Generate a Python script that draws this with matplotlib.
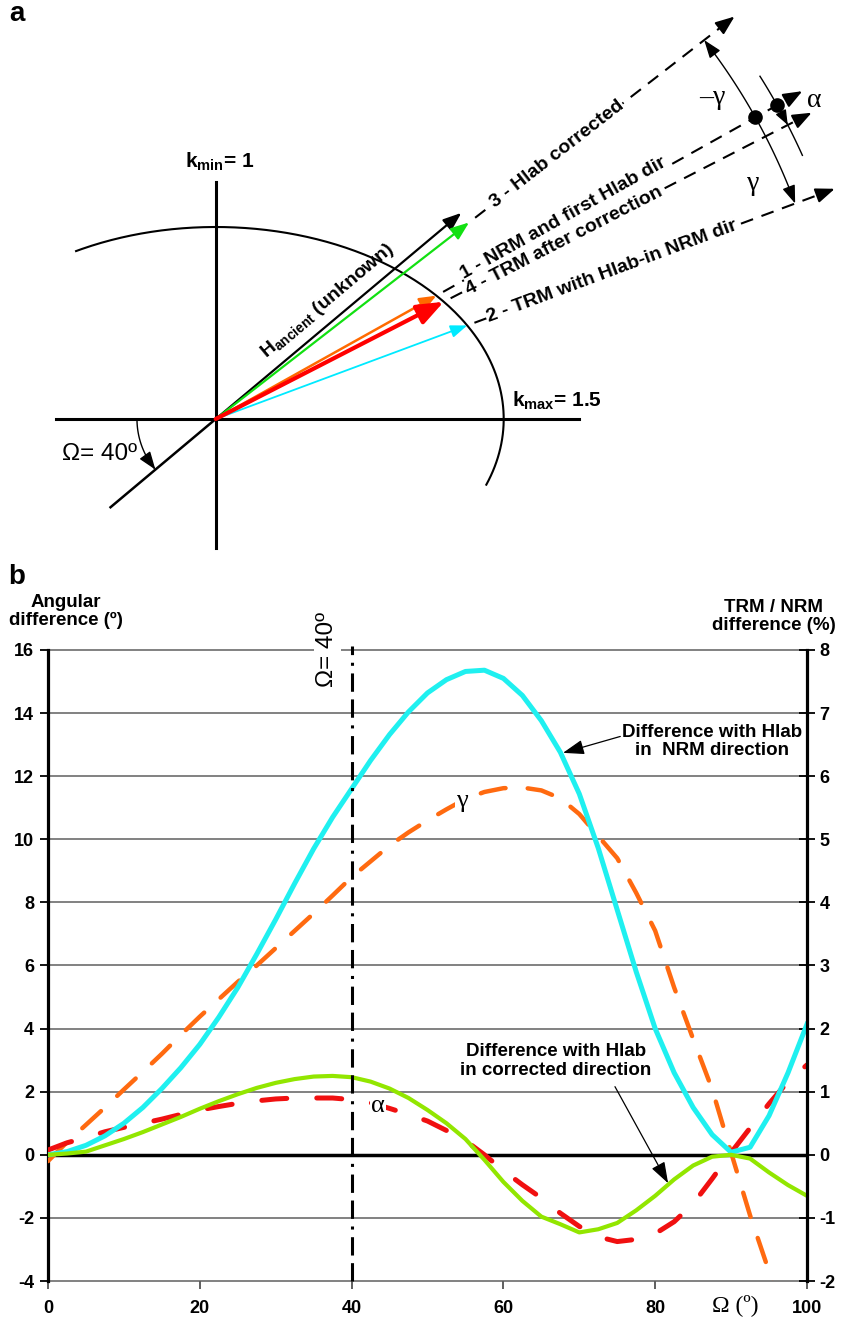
"""Anisotropy sketch (a) and angular / TRM-NRM differences against Omega (b)."""

import matplotlib

matplotlib.use("Agg")
import matplotlib.pyplot as plt
import numpy as np

plt.rcParams["font.family"] = ["Liberation Sans", "DejaVu Sans"]
plt.rcParams["mathtext.fontset"] = "custom"
plt.rcParams["mathtext.rm"] = "Liberation Sans"
plt.rcParams["mathtext.bf"] = "Liberation Sans:bold"
plt.rcParams["mathtext.it"] = "Liberation Sans:italic"
plt.rcParams["axes.unicode_minus"] = False

SERIF = ["Liberation Serif", "DejaVu Serif"]

# ---------------- panel b: curves vs Omega ----------------
OMEGA_DEG = [0, 2.5, 5, 7.5, 10, 12.5, 15, 17.5, 20, 22.5, 25, 27.5, 30, 32.5,
             35, 37.5, 40, 42.5, 45, 47.5, 50, 52.5, 55, 57.5, 60, 62.5, 65,
             67.5, 70, 72.5, 75, 77.5, 80, 82.5, 85, 87.5, 90, 92.5, 95, 97.5,
             100]

# angular differences (deg, left axis)
GAMMA_DEG = [-0.2, 0.4, 0.95, 1.5, 2.07, 2.63, 3.2, 3.8, 4.38, 4.93, 5.48, 6.0,
             6.55, 7.1, 7.65, 8.22, 8.8, 9.3, 9.8, 10.22, 10.6, 10.95, 11.28,
             11.5, 11.62, 11.64, 11.55, 11.3, 10.8, 10.1, 9.4, 8.3, 7.1, 5.3,
             3.67, 2.08, 0.07, -1.92, -3.7, -5.5]
OMEGA_GAMMA = OMEGA_DEG[:len(GAMMA_DEG)]
ALPHA_DEG = [0.15, 0.38, 0.55, 0.73, 0.87, 1.0, 1.13, 1.28, 1.42, 1.53, 1.63,
             1.71, 1.77, 1.8, 1.8, 1.8, 1.75, 1.65, 1.47, 1.28, 1.07, 0.77,
             0.45, 0.0, -0.5, -0.95, -1.37, -1.85, -2.27, -2.6, -2.75, -2.68,
             -2.5, -2.12, -1.55, -0.76, 0.07, 0.85, 1.62, 2.32, 2.85]

# TRM / NRM differences (%, right axis)
NRM_DIR_PCT = [0, 0.05, 0.15, 0.3, 0.5, 0.75, 1.05, 1.38, 1.75, 2.18, 2.65,
               3.18, 3.73, 4.3, 4.85, 5.35, 5.8, 6.25, 6.66, 7.02, 7.32, 7.53,
               7.66, 7.68, 7.55, 7.28, 6.88, 6.38, 5.72, 4.86, 3.88, 2.9, 2.0,
               1.3, 0.75, 0.32, 0.04, 0.12, 0.62, 1.3, 2.07]
CORR_DIR_PCT = [0, 0.02, 0.05, 0.15, 0.25, 0.36, 0.48, 0.6, 0.73, 0.85, 0.96,
                1.06, 1.14, 1.2, 1.24, 1.25, 1.23, 1.16, 1.05, 0.9, 0.71, 0.5,
                0.25, -0.08, -0.43, -0.73, -0.98, -1.1, -1.23, -1.18, -1.08,
                -0.88, -0.65, -0.39, -0.17, -0.03, 0.0, -0.06, -0.28, -0.48,
                -0.65]

LEFT_TICKS = list(range(-4, 17, 2))
RIGHT_TICKS = list(range(-2, 9))
X_TICKS = list(range(0, 101, 20))
OMEGA_MARK = 40

# ---------------- panel a: sketch geometry ----------------
K_MIN = 1.0
K_MAX = 1.5
ANG_ANCIENT = 40.0      # also Omega
ANG_HLAB_CORR = 37.8
ANG_NRM = 29.2
ANG_TRM_CORR = 27.2
ANG_TRM_NRMDIR = 20.4

W, H = 842, 1319
fig = plt.figure(figsize=(W / 100, H / 100), dpi=100)

# ======================= panel a =======================
U = 192.0                 # pixels per unit of susceptibility
OX, OY = 215.7, 419.0     # origin of the sketch in figure pixels
TOP_H = 560
ax_a = fig.add_axes([0, 1 - TOP_H / H, 1, TOP_H / H])
ax_a.set_xlim(-OX / U, (W - OX) / U)
ax_a.set_ylim(-(TOP_H - OY) / U, OY / U)
ax_a.axis("off")


def polar(r, deg):
    t = np.radians(deg)
    return np.array([r * np.cos(t), r * np.sin(t)])


def along(r, deg, off=0.0):
    return polar(r, deg) + polar(off, deg + 90)


def on_ellipse(deg):
    t = np.radians(deg)
    return 1.0 / np.hypot(np.cos(t) / K_MAX, np.sin(t) / K_MIN)


def head(ax, start, end, color="black", lw=1.5, hl=1.0, hw=0.4, z=4):
    ax.annotate("", xy=tuple(end), xytext=tuple(start),
                arrowprops=dict(arrowstyle=f"-|>,head_length={hl},head_width={hw}",
                                color=color, lw=lw, shrinkA=0, shrinkB=0,
                                mutation_scale=10),
                zorder=z)


def dashed_ray(ax, deg, r0, r1):
    p0, pm, p1 = polar(r0, deg), polar(r1 - 0.07, deg), polar(r1, deg)
    ax.plot([p0[0], pm[0]], [p0[1], pm[1]], color="black", lw=1.5,
            dashes=(6.2, 4.3), zorder=2)
    head(ax, pm, p1, lw=1.5, hl=1.15, hw=0.45)


def arc(ax, r, a0, a1, lw=1.0):
    t = np.radians(np.linspace(a0, a1, 80))
    ax.plot(r * np.cos(t), r * np.sin(t), color="black", lw=lw, zorder=3)


# coordinate axes and the Omega direction
ax_a.plot([-0.83, 1.89], [0, 0], color="black", lw=2.2, zorder=2)
ax_a.plot([0, 0], [-0.67, 1.234], color="black", lw=2.2, zorder=2)
low = polar(0.715, 180 + ANG_ANCIENT)
ax_a.plot([low[0], 0], [low[1], 0], color="black", lw=1.8, zorder=2)

# susceptibility ellipse
t = np.radians(np.linspace(-20, 119, 200))
ax_a.plot(K_MAX * np.cos(t), K_MIN * np.sin(t), color="black", lw=1.5, zorder=2)

# Omega angle
arc(ax_a, 0.41, 180, 180 + ANG_ANCIENT - 1.5)
head(ax_a, polar(0.41, 180 + ANG_ANCIENT - 8), polar(0.41, 180 + ANG_ANCIENT),
     lw=1.0, hl=1.1, hw=0.4)

# vectors from the origin
head(ax_a, (0, 0), polar(1.67, ANG_ANCIENT), "black", 1.6, 1.1, 0.42)
head(ax_a, (0, 0), polar(1.67, ANG_HLAB_CORR), "#12e012", 1.6, 1.1, 0.42)
head(ax_a, (0, 0), polar(on_ellipse(ANG_NRM), ANG_NRM), "#ff6a00", 1.8, 1.0, 0.4)
head(ax_a, (0, 0), polar(on_ellipse(ANG_TRM_CORR), ANG_TRM_CORR), "#ff0000",
     3.0, 1.6, 0.62, z=5)
head(ax_a, (0, 0), polar(on_ellipse(ANG_TRM_NRMDIR), ANG_TRM_NRMDIR), "#00eaff",
     1.3, 1.0, 0.38)

# dashed continuations
dashed_ray(ax_a, ANG_HLAB_CORR, 1.71, 3.42)
dashed_ray(ax_a, ANG_NRM, on_ellipse(ANG_NRM) + 0.04, 3.5)
dashed_ray(ax_a, ANG_TRM_CORR, on_ellipse(ANG_TRM_CORR) + 0.04, 3.49)
dashed_ray(ax_a, ANG_TRM_NRMDIR, on_ellipse(ANG_TRM_NRMDIR) + 0.04, 3.44)

# gamma and alpha arcs
R_G, R_A = 3.22, 3.35
arc(ax_a, R_G, ANG_TRM_NRMDIR + 0.5, ANG_HLAB_CORR - 0.5)
head(ax_a, polar(R_G, ANG_HLAB_CORR - 1.5), polar(R_G, ANG_HLAB_CORR), lw=1.0,
     hl=1.1, hw=0.4)
head(ax_a, polar(R_G, ANG_TRM_NRMDIR + 1.5), polar(R_G, ANG_TRM_NRMDIR), lw=1.0,
     hl=1.1, hw=0.4)
arc(ax_a, R_A, 24.2, 32.2)
head(ax_a, polar(R_A, ANG_TRM_CORR + 1.5), polar(R_A, ANG_TRM_CORR), lw=1.0,
     hl=0.9, hw=0.35)
for r in (R_G, R_A):
    p = polar(r, ANG_NRM)
    ax_a.plot(p[0], p[1], "o", color="black", ms=9.5, zorder=6)

label_box = dict(facecolor="white", edgecolor="none", pad=0.4)
line_labels = [
    ("3 - Hlab corrected", 2.25, ANG_HLAB_CORR, 0.0),
    ("1 - NRM and first Hlab dir", 2.09, ANG_NRM, 0.03),
    ("4 - TRM after correction", 2.04, ANG_TRM_CORR, -0.005),
    ("2 - TRM with Hlab-in NRM dir", 2.2, ANG_TRM_NRMDIR, 0.0),
]
for text, r, deg, off in line_labels:
    x, y = along(r, deg, off)
    ax_a.text(x, y, text, rotation=deg, rotation_mode="anchor", ha="center",
              va="center", fontsize=14, fontweight="bold", bbox=label_box,
              zorder=7)

x, y = along(0.84, ANG_ANCIENT, 0.095)
ax_a.text(x, y, r"$\mathbf{H}_{\mathbf{ancient}}$ (unknown)", rotation=ANG_ANCIENT,
          rotation_mode="anchor", ha="center", va="center", fontsize=14,
          fontweight="bold", zorder=7)
ax_a.text(0.023, 1.339, r"$\mathbf{k}_{\mathbf{min}}$= 1", ha="center",
          va="center", fontsize=15, fontweight="bold")
ax_a.text(1.778, 0.094, r"$\mathbf{k}_{\mathbf{max}}$= 1.5", ha="center",
          va="center", fontsize=15, fontweight="bold")
ax_a.text(-0.603, -0.182, "Ω= 40º", ha="center", va="center", fontsize=17.5)
ax_a.text(2.585, 1.677, "–γ", ha="center", va="center", fontsize=20,
          family=SERIF)
ax_a.text(2.798, 1.229, "γ", ha="center", va="center", fontsize=20,
          family=SERIF)
ax_a.text(3.12, 1.661, "α", ha="center", va="center", fontsize=20,
          family=SERIF)

fig.text(17 / W, 1 - 14 / H, "a", ha="center", va="center", fontsize=20,
         fontweight="bold")
fig.text(17 / W, 1 - 577 / H, "b", ha="center", va="center", fontsize=20,
         fontweight="bold")

# ======================= panel b =======================
ax_b = fig.add_axes([48 / W, 1 - 1281 / H, 759 / W, 631 / H])
ax_b.set_xlim(0, 100)
ax_b.set_ylim(-4, 16)
ax_r = ax_b.twinx()
ax_r.set_ylim(-2, 8)

for s in ("top", "bottom", "right"):
    ax_b.spines[s].set_visible(False)
for s in ("top", "bottom", "left"):
    ax_r.spines[s].set_visible(False)
ax_b.spines["left"].set_linewidth(2.3)
ax_r.spines["right"].set_linewidth(2.3)

ax_b.set_xticks(X_TICKS)
ax_b.set_yticks(LEFT_TICKS)
ax_r.set_yticks(RIGHT_TICKS)
ax_b.grid(axis="y", color="#5f5f5f", lw=1.1)
for gl in ax_b.get_ygridlines():
    gl.set_clip_on(False)
ax_b.set_axisbelow(True)
ax_b.axhline(0, color="black", lw=2.5, zorder=1.5)

ax_b.tick_params(axis="y", direction="out", length=6, width=1.3, pad=4,
                 labelsize=13)
ax_r.tick_params(axis="y", direction="inout", length=12, width=1.3, pad=3,
                 labelsize=13)
ax_b.tick_params(axis="x", direction="out", length=6, width=1.2,
                 color="#444444", pad=8, labelsize=13)
for lab in ax_b.get_xticklabels() + ax_b.get_yticklabels() + ax_r.get_yticklabels():
    lab.set_fontweight("bold")

ax_b.plot(OMEGA_GAMMA, GAMMA_DEG, color="#ff6a10", lw=3.2, dashes=(5.7, 5.0),
          dash_capstyle="round", zorder=3)
ax_b.plot(OMEGA_DEG, ALPHA_DEG, color="#f01010", lw=3.6, dashes=(5.0, 6.0),
          dash_capstyle="round", zorder=3)
ax_r.plot(OMEGA_DEG, NRM_DIR_PCT, color="#1ff0f0", lw=3.6,
          solid_joinstyle="round", zorder=2)
ax_r.plot(OMEGA_DEG, CORR_DIR_PCT, color="#92e600", lw=3.0,
          solid_joinstyle="round", zorder=2)

ax_r.axvline(OMEGA_MARK, ymin=0, ymax=1.006, color="black", lw=2.2,
             dashes=(6, 2.5, 6, 2.5, 1, 2.5), clip_on=False, zorder=5)
ax_r.text(36.8, 16.0, "Ω= 40º", rotation=90, ha="center", va="center",
          fontsize=17.5, transform=ax_b.transData,
          bbox=dict(facecolor="white", edgecolor="none", pad=2), zorder=6)

greek_box = dict(facecolor="white", edgecolor="none", pad=0.5)
ax_r.text(54.5, 11.2, "γ", ha="center", va="center", fontsize=19, family=SERIF,
          transform=ax_b.transData, bbox=greek_box, zorder=6)
ax_r.text(43.5, 1.55, "α", ha="center", va="center", fontsize=19, family=SERIF,
          transform=ax_b.transData, bbox=greek_box, zorder=6)

arrow_kw = dict(arrowstyle="-|>,head_length=1.3,head_width=0.45", color="black",
                lw=0.9, shrinkA=0, shrinkB=0, mutation_scale=10)
ax_r.annotate("", xy=(67.85, 6.37), xytext=(75.4, 6.63), arrowprops=arrow_kw,
              zorder=6)
ax_r.text(87.5, 6.55, "Difference with Hlab\nin  NRM direction", ha="center",
          va="center", fontsize=13.5, fontweight="bold", linespacing=1.15)
ax_r.annotate("", xy=(81.7, -0.45), xytext=(74.7, 1.08), arrowprops=arrow_kw,
              zorder=6)
ax_r.text(66.9, 1.49, "Difference with Hlab\nin corrected direction",
          ha="center", va="center", fontsize=13.5, fontweight="bold",
          linespacing=1.15)

ax_b.text(2.4, 17.22, "Angular\ndifference (º)", ha="center", va="center",
          fontsize=13.5, fontweight="bold", linespacing=1.1)
ax_b.text(95.65, 17.06, "TRM / NRM\ndifference (%)", ha="center", va="center",
          fontsize=13.5, fontweight="bold", linespacing=1.1)
ax_b.text(90.5, -4.76, "Ω (º)", ha="center", va="center", fontsize=17,
          family=SERIF)

fig.savefig("out.png", dpi=100)
